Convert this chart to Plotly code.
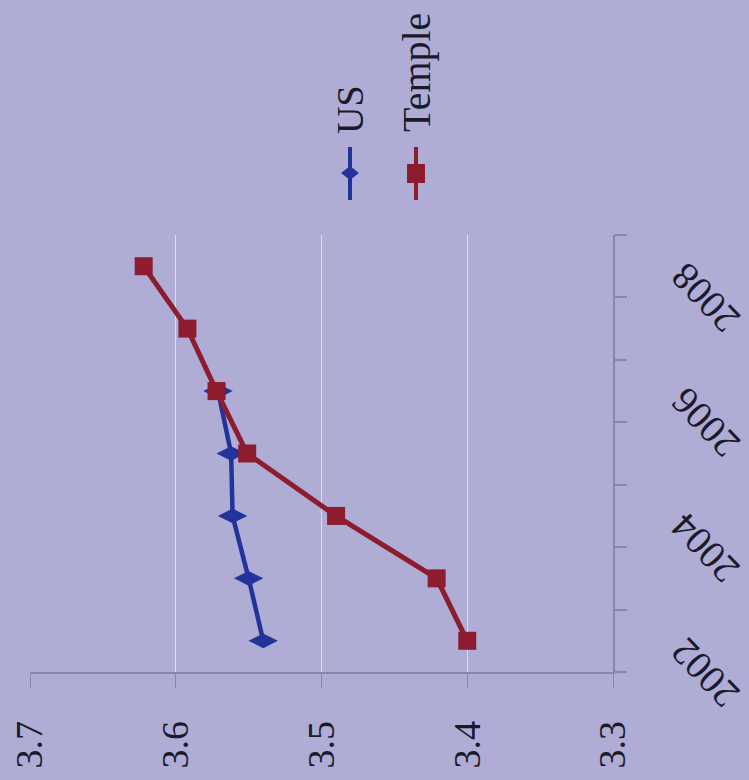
import plotly.graph_objects as go

years = [2002, 2003, 2004, 2005, 2006, 2007, 2008]
temple = [3.400, 3.421, 3.490, 3.551, 3.572, 3.592, 3.622]
us_years = [2002, 2003, 2004, 2005, 2006]
us = [3.540, 3.550, 3.561, 3.562, 3.571]
value_ticks = [3.3, 3.4, 3.5, 3.6, 3.7]
value_labels = ["3.3", "3.4", "3.5", "3.6", "3.7"]
year_ticks = [2002, 2004, 2006, 2008]
year_labels = ["2002", "2004", "2006", "2008"]
year_bounds = [2001.5, 2002.5, 2003.5, 2004.5, 2005.5, 2006.5, 2007.5, 2008.5]

BG = "#afacd5"
RED = "#8c1c2e"
BLUE = "#24339a"
AXIS = "#8a87a6"
FONT = "Liberation Serif"
TXT = "#1a1a2a"

fig = go.Figure()
fig.add_trace(go.Scatter(x=us, y=us_years, mode="lines+markers", name="US",
                         line=dict(color=BLUE, width=4.5),
                         marker=dict(symbol="diamond-wide", size=21, color=BLUE)))
fig.add_trace(go.Scatter(x=temple, y=years, mode="lines+markers", name="Temple",
                         line=dict(color=RED, width=5),
                         marker=dict(symbol="square", size=18, color=RED)))

L, R, T, B = 30, 613, 235, 672
W, H = 749, 780

def px(x):
    return (x - L) / (R - L)

def py(y):
    return (B - y) / (B - T)

# legend drawn manually (rotated)
for cx, col, sym in [(350, BLUE, "diamond"), (416, RED, "square")]:
    fig.add_shape(type="line", xref="paper", yref="paper",
                  x0=px(cx), x1=px(cx), y0=py(147), y1=py(200),
                  line=dict(color=col, width=4))
    if sym == "square":
        fig.add_shape(type="rect", xref="paper", yref="paper",
                      x0=px(cx - 9), x1=px(cx + 9), y0=py(164), y1=py(183),
                      fillcolor=col, line=dict(width=0))
    else:
        fig.add_shape(type="path", xref="paper", yref="paper",
                      path=f"M {px(cx-9)},{py(173)} L {px(cx)},{py(166)} L {px(cx+9)},{py(173)} L {px(cx)},{py(180)} Z",
                      fillcolor=col, line=dict(width=0))

fig.add_annotation(text="US", xref="paper", yref="paper", x=px(350), y=py(110),
                   xanchor="center", yanchor="middle",
                   textangle=-90, showarrow=False, font=dict(family=FONT, size=38, color=TXT))
fig.add_annotation(text="Temple", xref="paper", yref="paper", x=px(416), y=py(73),
                   xanchor="center", yanchor="middle",
                   textangle=-90, showarrow=False, font=dict(family=FONT, size=40, color=TXT))

# year labels (rotated, placed right of the category axis)
for yv, lab in zip(year_ticks, year_labels):
    fig.add_annotation(text=lab, xref="paper", yref="y", x=px(705), y=yv, yshift=-32,
                       xanchor="center", yanchor="middle",
                       textangle=-134, showarrow=False, font=dict(family=FONT, size=39, color=TXT))

fig.update_layout(
    width=W, height=H,
    margin=dict(l=L, r=W - R, t=T, b=H - B, autoexpand=False),
    paper_bgcolor=BG, plot_bgcolor=BG,
    showlegend=False,
    font=dict(family=FONT, size=38, color=TXT),
    xaxis=dict(range=[3.7, 3.3], tickvals=value_ticks, ticktext=value_labels,
               tickangle=-90, tickfont=dict(family=FONT, size=38, color=TXT),
               showgrid=True, gridcolor="rgba(235,235,250,0.75)", gridwidth=1,
               showline=True, linecolor=AXIS, linewidth=1.5,
               ticks="outside", ticklen=14, tickcolor=AXIS, tickwidth=1,
               ticklabelstandoff=18, zeroline=False, automargin=False),
    yaxis=dict(range=[2001.5, 2008.5], side="right", tickvals=year_bounds,
               showticklabels=False, showgrid=False,
               showline=True, linecolor=AXIS, linewidth=1.5,
               ticks="outside", ticklen=12, tickcolor=AXIS, tickwidth=1.5,
               zeroline=False, automargin=False),
)

fig.write_html("out.html")
